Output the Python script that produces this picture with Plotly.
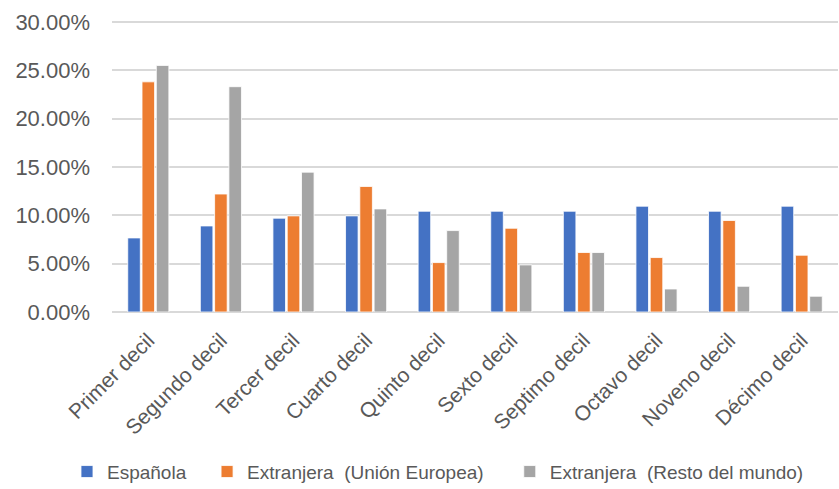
import plotly.graph_objects as go

categories = ["Primer decil", "Segundo decil", "Tercer decil", "Cuarto decil", "Quinto decil",
              "Sexto decil", "Septimo decil", "Octavo decil", "Noveno decil", "Décimo decil"]
espanola = [7.66, 8.90, 9.70, 9.94, 10.42, 10.42, 10.42, 10.94, 10.42, 10.94]
extranjera_ue = [23.80, 12.20, 9.94, 12.98, 5.11, 8.66, 6.15, 5.63, 9.46, 5.87]
extranjera_resto = [25.50, 23.30, 14.46, 10.66, 8.42, 4.87, 6.15, 2.38, 2.66, 1.63]
series_names = ["Española\u00a0\u00a0\u00a0",
                "Extranjera\u00a0 (Unión Europea)\u00a0\u00a0\u00a0\u00a0",
                "Extranjera\u00a0 (Resto del mundo)"]
colors = ["#4472C4", "#ED7D31", "#A5A5A5"]
y_ticks = [0, 5, 10, 15, 20, 25, 30]
y_tick_labels = ["0.00%", "5.00%", "10.00%", "15.00%", "20.00%", "25.00%", "30.00%"]

fig = go.Figure()
for name, vals, col in zip(series_names, [espanola, extranjera_ue, extranjera_resto], colors):
    fig.add_trace(go.Bar(x=categories, y=vals, name=name,
                         marker=dict(color=col, line=dict(color="white", width=0.8))))

font_family = "Liberation Sans, Arial, sans-serif"
fig.update_layout(
    width=839, height=489,
    margin=dict(l=112, r=1, t=19, b=177, autoexpand=False),
    paper_bgcolor="white", plot_bgcolor="white",
    barmode="group", bargap=0.41, bargroupgap=0.12,
    font=dict(family=font_family, color="#595959"),
    legend=dict(orientation="h", x=-0.062, xanchor="left", y=-0.545, yanchor="middle",
                font=dict(size=19, color="#595959"), itemwidth=30, traceorder="normal"),
    showlegend=True,
)
fig.update_yaxes(range=[0, 30.3], tickvals=y_ticks, ticktext=y_tick_labels,
                 showgrid=True, gridcolor="#D9D9D9", gridwidth=1.5,
                 zeroline=True, zerolinecolor="#D9D9D9", zerolinewidth=1.5,
                 showline=False, tickfont=dict(size=22, color="#595959"),
                 ticklabelstandoff=21, automargin=False)
fig.update_xaxes(tickangle=-45, tickfont=dict(size=21, color="#595959"),
                 showline=False, showgrid=False, ticks="", ticklabelstandoff=11,
                 automargin=False)

fig.write_html("out.html", config={"displayModeBar": False},
               post_script="document.body.style.margin='0';")
